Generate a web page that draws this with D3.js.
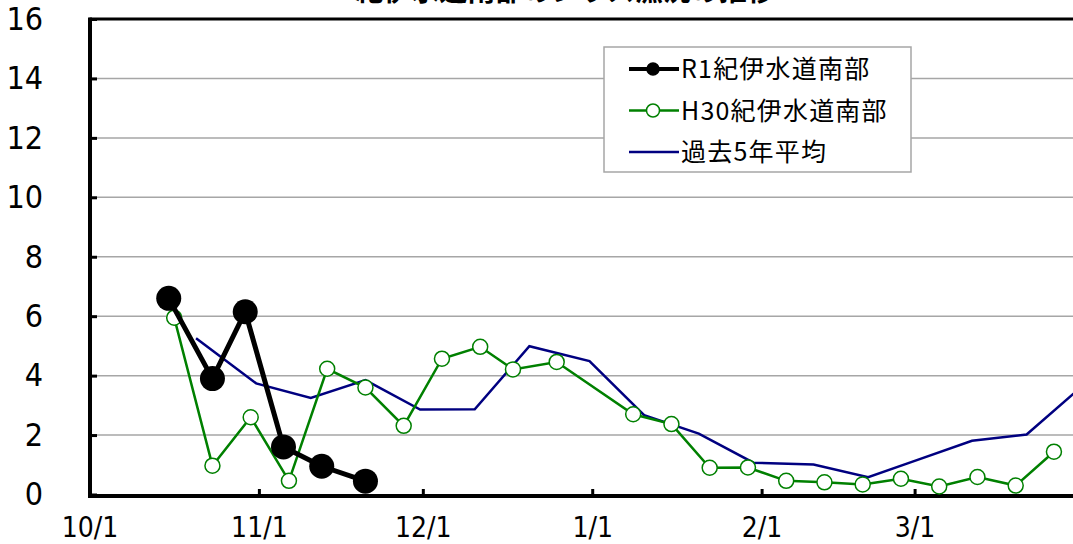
<!DOCTYPE html>
<html>
<head>
<meta charset="utf-8">
<script src="https://cdn.jsdelivr.net/npm/d3@7/dist/d3.min.js"></script>
<style>
body { margin: 0; background: #fff; }
</style>
</head>
<body>
<svg id="chart"></svg>
<script>
// data (month/day, season Oct -> Mar)
var r1Dates = ["10/15", "10/23", "10/29", "11/5", "11/12", "11/20"];
var r1Values = [6.6, 3.9, 6.15, 1.6, 0.95, 0.45];

var h30Dates = ["10/16", "10/23", "10/30", "11/6", "11/13", "11/20", "11/27", "12/4", "12/11", "12/17", "12/25",
	"1/8", "1/15", "1/22", "1/29", "2/5", "2/12", "2/19", "2/26", "3/5", "3/12", "3/19", "3/26"];
var h30Values = [5.95, 0.97, 2.6, 0.46, 4.23, 3.6, 2.31, 4.57, 4.97, 4.21, 4.46,
	2.7, 2.37, 0.9, 0.91, 0.46, 0.41, 0.34, 0.53, 0.27, 0.59, 0.3, 1.44];

var avgDates = ["10/20", "10/31", "11/10", "11/20", "11/30", "12/10", "12/20", "12/31", "1/10", "1/20", "1/30",
	"2/10", "2/20", "2/28", "3/11", "3/21", "3/31"];
var avgValues = [5.26, 3.74, 3.25, 3.85, 2.86, 2.87, 4.99, 4.49, 2.67, 2.05, 1.07,
	1.01, 0.58, 1.1, 1.81, 2.02, 3.62];

var xTickLabels = ["10/1", "11/1", "12/1", "1/1", "2/1", "3/1"];
var yTicks = [0, 2, 4, 6, 8, 10, 12, 14, 16];
var legendNames = ["R1紀伊水道南部", "H30紀伊水道南部", "過去5年平均"];
var titleText = "紀伊水道南部のシラス漁況の推移";

var width = 1073, height = 544;
var plotLeft = 89.5, plotRight = 1084, plotTop = 19, plotBottom = 494.5;
var numFont = "'Liberation Sans Narrow', 'Arial Narrow', 'DejaVu Sans Condensed', sans-serif";
var jpFont = "'Noto Sans CJK JP', sans-serif";

var green = "#008000";
var navy = "#000080";

// month/day -> date on one season axis; points sit mid-day (between tick marks)
function toDate(md, hour) {
	var p = md.split("/");
	var m = +p[0], d = +p[1];
	var year = m >= 10 ? 2018 : 2019;
	return new Date(Date.UTC(year, m - 1, d, hour || 0));
}

function makeSeries(dates, values) {
	var list = [];
	for (var i = 0; i < dates.length; i++) {
		list.push({ date: toDate(dates[i], 12), value: values[i] });
	}
	return list;
}

var r1 = makeSeries(r1Dates, r1Values);
var h30 = makeSeries(h30Dates, h30Values);
var avg = makeSeries(avgDates, avgValues);

var svg = d3.select("#chart").attr("width", width).attr("height", height);

var x = d3.scaleUtc().domain([toDate("10/1"), toDate("4/1")]).range([plotLeft, plotRight]);
var y = d3.scaleLinear().domain([0, 16]).range([plotBottom, plotTop]);

//TITLE (cut off at the top, as in the source)
svg.append("text")
	.attr("x", 565)
	.attr("y", 1)
	.attr("text-anchor", "middle")
	.attr("font-family", jpFont)
	.attr("font-weight", "bold")
	.attr("font-size", 28)
	.text(titleText);

//GRID
svg.selectAll(".grid").data(yTicks.filter(function(d) { return d > 0 && d < 16; })).enter()
	.append("line")
	.attr("class", "grid")
	.attr("x1", plotLeft)
	.attr("x2", width)
	.attr("y1", function(d) { return y(d); })
	.attr("y2", function(d) { return y(d); })
	.attr("stroke", "#a6a6a6")
	.attr("stroke-width", 1.5);

//top border
svg.append("line")
	.attr("x1", plotLeft)
	.attr("x2", plotRight)
	.attr("y1", y(16))
	.attr("y2", y(16))
	.attr("stroke", "black")
	.attr("stroke-width", 3);

//AXES
var xAxis = d3.axisBottom(x)
	.tickValues(xTickLabels.map(function(d) { return toDate(d); }))
	.tickFormat(function(d, i) { return xTickLabels[i]; })
	.tickSize(-7)
	.tickPadding(21);

var gx = svg.append("g")
	.attr("transform", "translate(0," + (y(0) + 1.5) + ")")
	.call(xAxis);

var yAxis = d3.axisLeft(y)
	.tickValues(yTicks)
	.tickSize(-7)
	.tickPadding(47);

var gy = svg.append("g")
	.attr("transform", "translate(" + (plotLeft + 0.5) + ",0)")
	.call(yAxis);

[gx, gy].forEach(function(g) {
	g.select(".domain").remove();
	g.selectAll(".tick line").attr("stroke", "black").attr("stroke-width", 3);
	g.attr("font-family", numFont).attr("fill", "black");
});
gx.attr("font-size", 28);
gy.attr("font-size", 32);

//axis lines
svg.append("line")
	.attr("x1", plotLeft + 0.5)
	.attr("x2", plotLeft + 0.5)
	.attr("y1", y(16) - 1.5)
	.attr("y2", y(0) + 3.5)
	.attr("stroke", "black")
	.attr("stroke-width", 4);

svg.append("line")
	.attr("x1", plotLeft - 1.5)
	.attr("x2", width)
	.attr("y1", y(0) + 1.5)
	.attr("y2", y(0) + 1.5)
	.attr("stroke", "black")
	.attr("stroke-width", 4);

//LINES
svg.append("clipPath").attr("id", "plotClip")
	.append("rect")
	.attr("x", plotLeft)
	.attr("y", 0)
	.attr("width", width - plotLeft)
	.attr("height", height);

var line = d3.line()
	.x(function(d) { return x(d.date); })
	.y(function(d) { return y(d.value); });

var plot = svg.append("g").attr("clip-path", "url(#plotClip)");

plot.append("path")
	.datum(avg)
	.attr("d", line)
	.attr("fill", "none")
	.attr("stroke", navy)
	.attr("stroke-width", 2.5);

plot.append("path")
	.datum(h30)
	.attr("d", line)
	.attr("fill", "none")
	.attr("stroke", green)
	.attr("stroke-width", 2.5);

plot.selectAll(".h30dot").data(h30).enter()
	.append("circle")
	.attr("class", "h30dot")
	.attr("cx", function(d) { return x(d.date); })
	.attr("cy", function(d) { return y(d.value); })
	.attr("r", 7.5)
	.attr("fill", "white")
	.attr("stroke", green)
	.attr("stroke-width", 1.5);

plot.append("path")
	.datum(r1)
	.attr("d", line)
	.attr("fill", "none")
	.attr("stroke", "black")
	.attr("stroke-width", 5);

plot.selectAll(".r1dot").data(r1).enter()
	.append("circle")
	.attr("class", "r1dot")
	.attr("cx", function(d) { return x(d.date); })
	.attr("cy", function(d) { return y(d.value); })
	.attr("r", 12.5)
	.attr("fill", "black");

//LEGEND
var legend = svg.append("g").attr("transform", "translate(604,47)");

legend.append("rect")
	.attr("width", 307)
	.attr("height", 125)
	.attr("fill", "white")
	.attr("stroke", "#a6a6a6")
	.attr("stroke-width", 1.5);

var legendStyles = [
	{ color: "black", width: 4, r: 6, fill: "black" },
	{ color: green, width: 2.5, r: 6.5, fill: "white" },
	{ color: navy, width: 2.5, r: 0, fill: "none" }
];

var rows = legend.selectAll(".row").data(legendNames).enter()
	.append("g")
	.attr("class", "row")
	.attr("transform", function(d, i) { return "translate(0," + (22 + i * 41.5) + ")"; });

rows.append("line")
	.attr("x1", 25)
	.attr("x2", 75)
	.attr("stroke", function(d, i) { return legendStyles[i].color; })
	.attr("stroke-width", function(d, i) { return legendStyles[i].width; });

rows.filter(function(d, i) { return legendStyles[i].r > 0; })
	.append("circle")
	.attr("cx", 49)
	.attr("r", function(d) { return legendStyles[legendNames.indexOf(d)].r; })
	.attr("fill", function(d) { return legendStyles[legendNames.indexOf(d)].fill; })
	.attr("stroke", function(d) { return legendStyles[legendNames.indexOf(d)].color; })
	.attr("stroke-width", 1.5);

rows.append("text")
	.attr("x", 77)
	.attr("dy", "0.36em")
	.attr("font-family", jpFont)
	.attr("font-size", 25)
	.attr("letter-spacing", 1.2)
	.text(function(d) { return d; });
</script>
</body>
</html>
